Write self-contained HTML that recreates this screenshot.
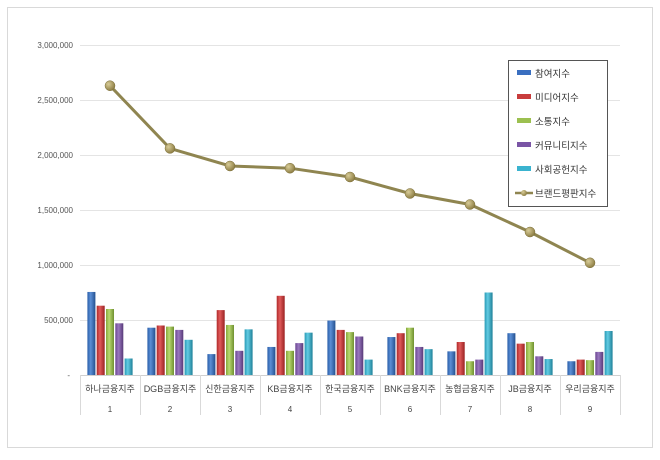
<!DOCTYPE html>
<html><head><meta charset="utf-8"><style>
body{margin:0;background:#fff;}
svg text{font-family:"Liberation Sans","Noto Sans CJK KR",sans-serif;}
</style></head><body>
<svg id="c" width="660" height="455" xmlns="http://www.w3.org/2000/svg">
<defs>
<linearGradient id="g0" x1="0" x2="1"><stop offset="0" stop-color="#2a5ea8"/><stop offset=".4" stop-color="#5b8fd6"/><stop offset="1" stop-color="#24508f"/></linearGradient>
<linearGradient id="g1" x1="0" x2="1"><stop offset="0" stop-color="#b02a2a"/><stop offset=".4" stop-color="#e05a5a"/><stop offset="1" stop-color="#9a2222"/></linearGradient>
<linearGradient id="g2" x1="0" x2="1"><stop offset="0" stop-color="#85a83a"/><stop offset=".4" stop-color="#b8d870"/><stop offset="1" stop-color="#6f9030"/></linearGradient>
<linearGradient id="g3" x1="0" x2="1"><stop offset="0" stop-color="#6a4690"/><stop offset=".4" stop-color="#9a78c0"/><stop offset="1" stop-color="#573a78"/></linearGradient>
<linearGradient id="g4" x1="0" x2="1"><stop offset="0" stop-color="#2a9ab5"/><stop offset=".4" stop-color="#62cbe2"/><stop offset="1" stop-color="#1f8098"/></linearGradient>
<radialGradient id="gm" cx=".35" cy=".35" r=".7"><stop offset="0" stop-color="#d8cc98"/><stop offset="1" stop-color="#8a7a40"/></radialGradient>
</defs>
<rect x="7.5" y="7.5" width="645" height="440" fill="#fff" stroke="#d9d9d9"/>
<g id="grid"></g><g id="bars"></g><g id="line"></g><g id="axis"></g>
<g>
<rect x="508.5" y="60.5" width="99" height="146" fill="#fff" stroke="#555"/>
<g id="leg"></g>
</g>
</svg>
<script>
const categories=["하나금융지주","DGB금융지주","신한금융지주","KB금융지주","한국금융지주","BNK금융지주","농협금융지주","JB금융지주","우리금융지주"];
const seriesNames=["참여지수","미디어지수","소통지수","커뮤니티지수","사회공헌지수"];
const participation=[755000,430000,190000,255000,495000,345000,215000,380000,125000];
const media=[630000,450000,590000,720000,410000,380000,300000,285000,140000];
const communication=[600000,440000,455000,220000,390000,430000,125000,300000,135000];
const community=[470000,410000,220000,290000,350000,255000,140000,170000,210000];
const social=[150000,320000,415000,385000,140000,235000,750000,145000,400000];
const brandIndex=[2630000,2060000,1900000,1880000,1800000,1650000,1550000,1300000,1020000];
const yTicks=[0,500000,1000000,1500000,2000000,2500000,3000000];
const yTickLabels=["-","500,000","1,000,000","1,500,000","2,000,000","2,500,000","3,000,000"];
const lineName="브랜드평판지수";

const NS="http://www.w3.org/2000/svg";
const X0=80,X1=620,Y0=375,YT=45,YMAX=3000000;
const bw=(X1-X0)/categories.length;
const y=v=>Y0-(v/YMAX)*(Y0-YT);
const xc=i=>X0+bw*(i+0.5);
function mk(tag,attrs,parent,txt){const e=document.createElementNS(NS,tag);for(const k in attrs)e.setAttribute(k,attrs[k]);if(txt!=null)e.textContent=txt;document.getElementById(parent).appendChild(e);return e;}
yTicks.forEach((t,i)=>{
  if(t>0){const l=mk("line",{x1:X0,x2:X1,y1:y(t)+.5,y2:y(t)+.5,stroke:"#e4e4e4"},"grid");
  
  }
  const tx=mk("text",{x:t===0?70:73,y:y(t)+3,"text-anchor":"end","font-size":"8",fill:"#555"},"axis",yTickLabels[i]);
  
  
});
mk("line",{x1:X0,x2:X1,y1:Y0+.5,y2:Y0+.5,stroke:"#d0d0d0"},"axis");
for(let i=0;i<=categories.length;i++){mk("line",{x1:X0+bw*i+.5,x2:X0+bw*i+.5,y1:Y0,y2:415,stroke:"#d9d9d9"},"axis");}
categories.forEach((c,i)=>{
  const t=mk("text",{x:xc(i),y:392,"text-anchor":"middle","font-size":"9",fill:"#444"},"axis",c);
  
  
  const n=mk("text",{x:xc(i),y:412,"text-anchor":"middle","font-size":"8",fill:"#444"},"axis",String(i+1));
  
  
});
const series=[participation,media,communication,community,social];
const cw=8,gap=1.3;
series.forEach((s,si)=>{
  s.forEach((v,i)=>{
    const x=xc(i)-(5*cw+4*gap)/2+si*(cw+gap);
    const r=mk("rect",{x:x,y:y(v),width:cw,height:Y0-y(v),fill:"url(#g"+si+")"},"bars");
    
    
  });
});
const pts=brandIndex.map((v,i)=>xc(i)+","+y(v)).join(" ");
const pl=mk("polyline",{points:pts,fill:"none",stroke:"#8f8550","stroke-width":"3"},"line");


brandIndex.forEach((v,i)=>{
  const c=mk("circle",{cx:xc(i),cy:y(v),r:5,fill:"url(#gm)",stroke:"#7a6d35","stroke-width":".5"},"line");
  
  
});
const cols=["#3a6fc0","#c83c3c","#9cc050","#7a55a5","#3ab3cf"];
seriesNames.concat([lineName]).forEach((n,i)=>{
  const ly=73+i*24;
  if(i<5){mk("rect",{x:517,y:ly-3,width:14,height:5,fill:cols[i]},"leg");}
  else{mk("line",{x1:515,x2:533,y1:ly,y2:ly,stroke:"#8f8550","stroke-width":"2.5"},"leg");mk("circle",{cx:524,cy:ly,r:3,fill:"url(#gm)"},"leg");}
  const t=mk("text",{x:535,y:ly+4,"font-size":"9.5",fill:"#333"},"leg",n);
  
  
});
</script>
</body></html>
